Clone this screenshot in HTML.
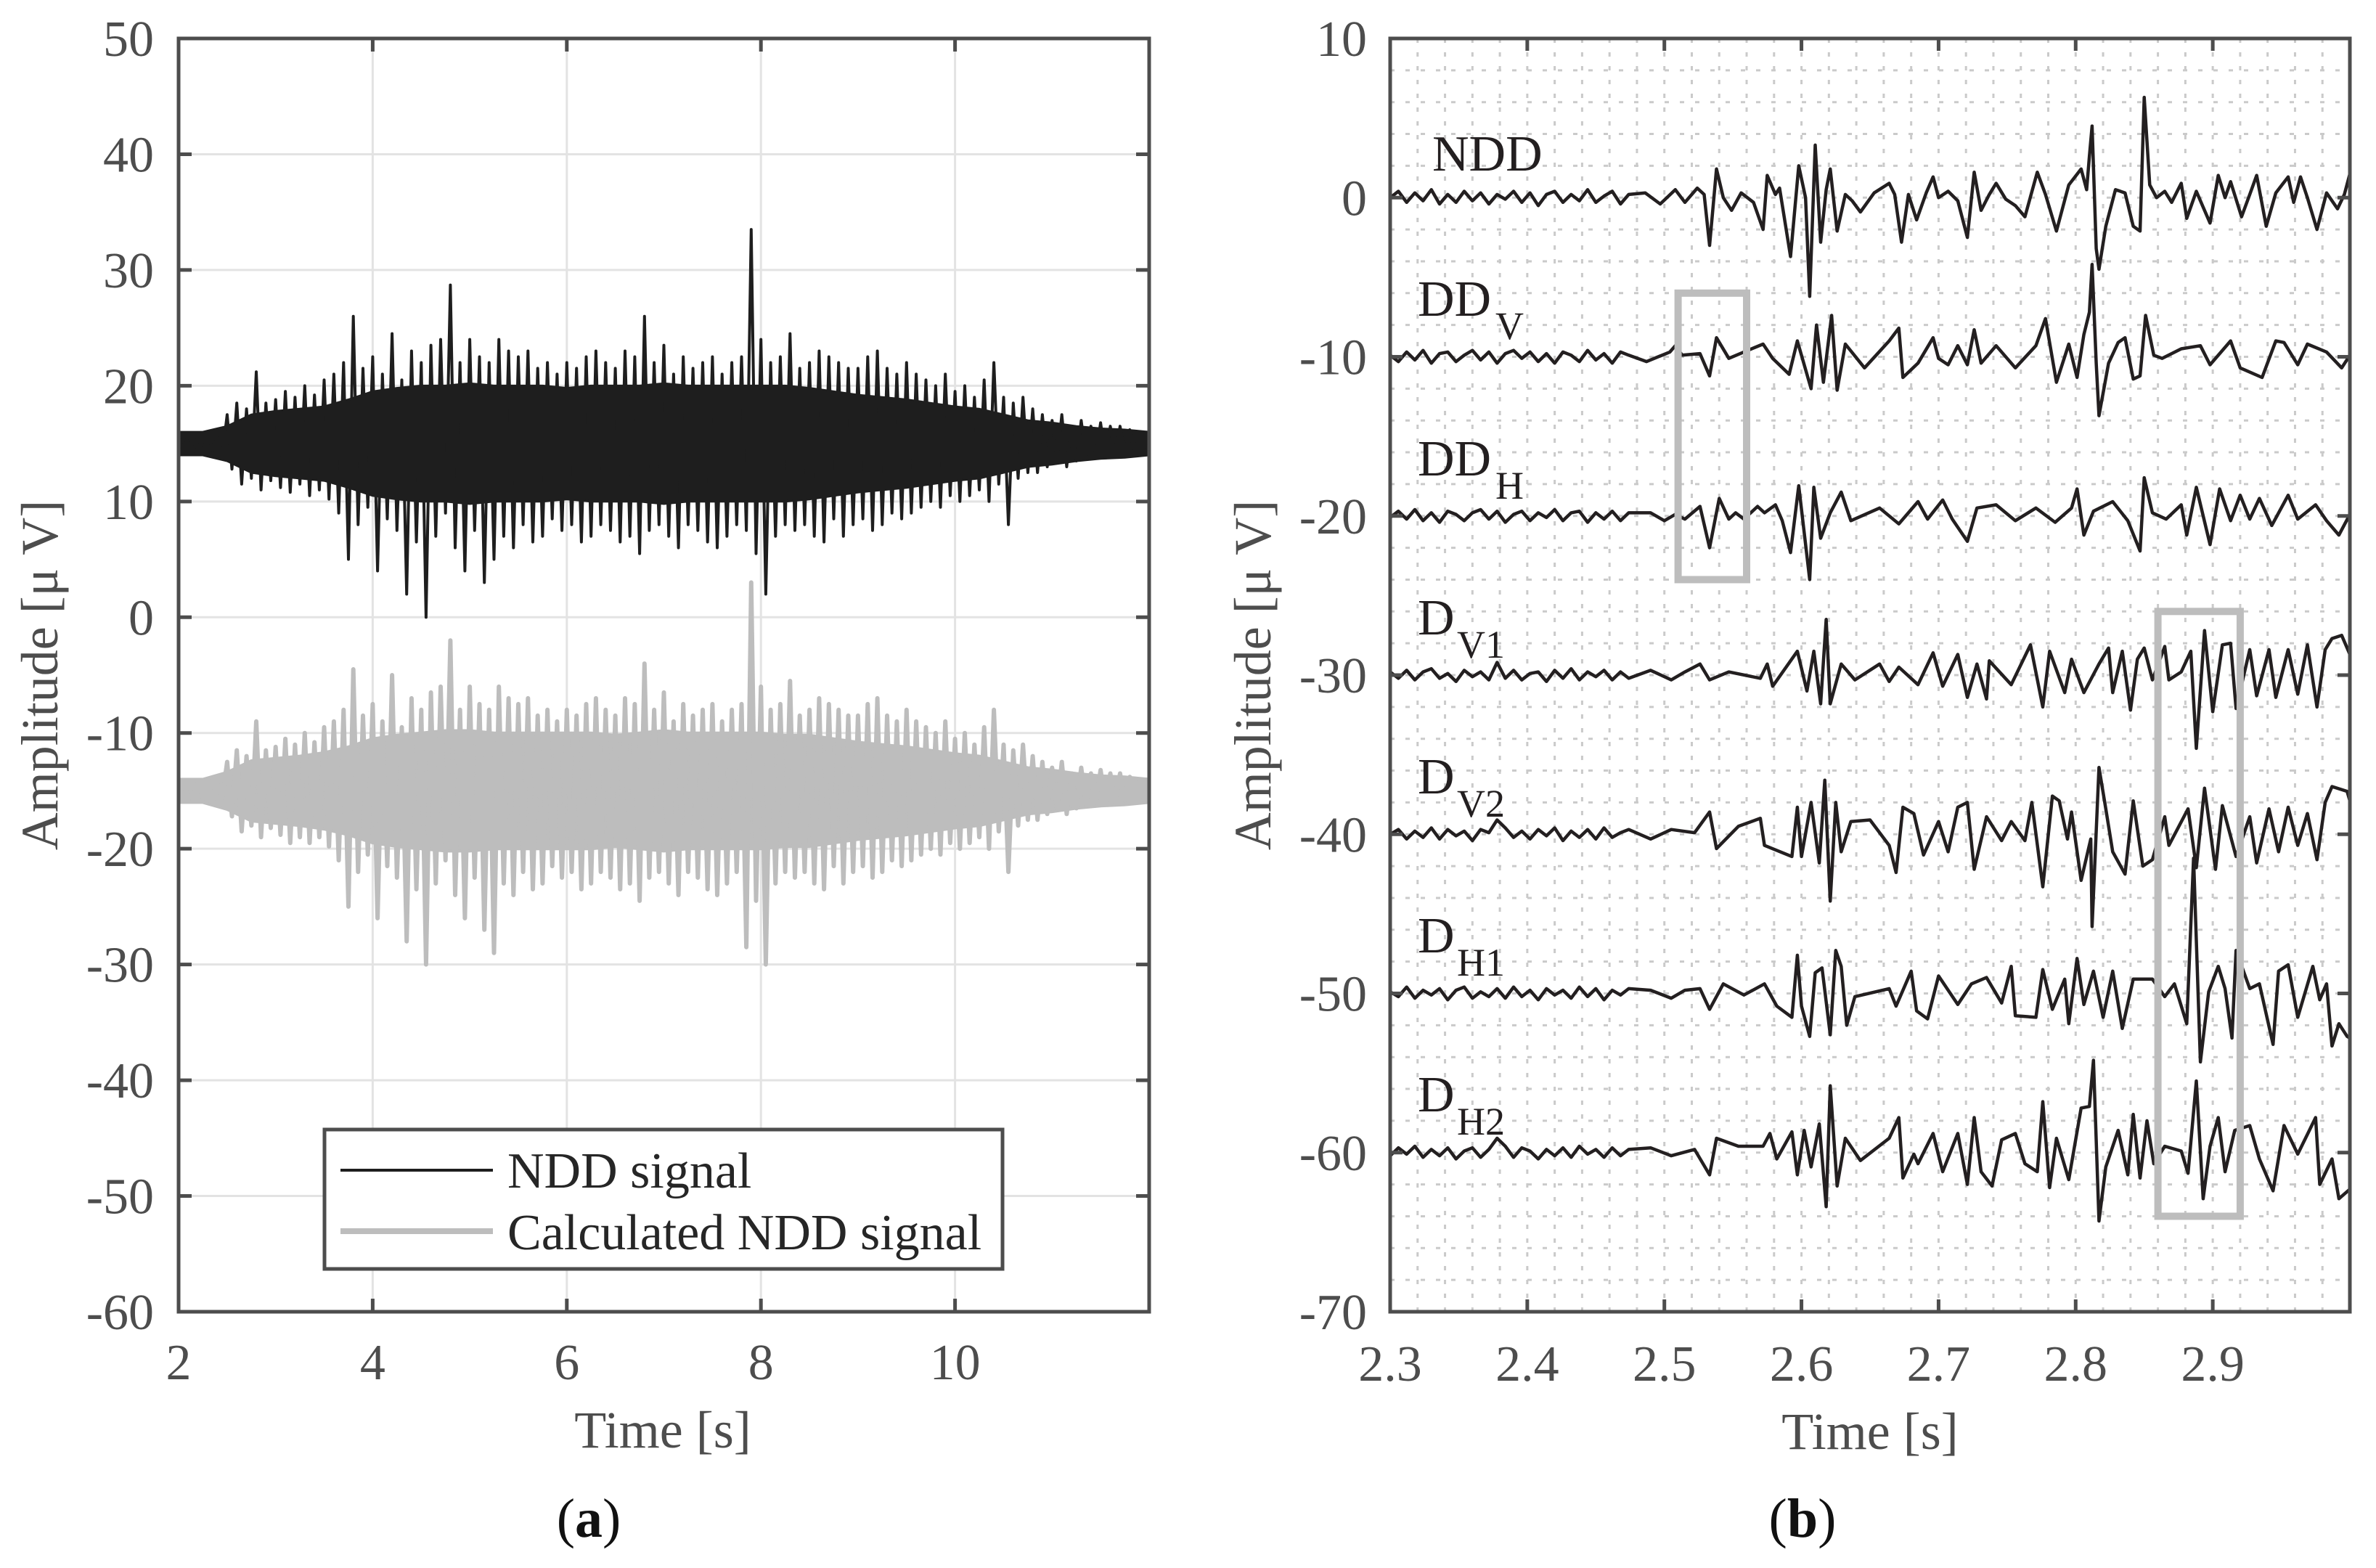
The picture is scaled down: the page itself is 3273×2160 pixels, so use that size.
<!DOCTYPE html>
<html><head><meta charset="utf-8"><style>
html,body{margin:0;padding:0;background:#fff}
svg{display:block}
text{font-family:"Liberation Serif",serif}
</style></head><body>
<svg id="fig" width="3273" height="2160" viewBox="0 0 3273 2160" xmlns="http://www.w3.org/2000/svg" font-family="Liberation Serif, serif">
<defs>
<clipPath id="clipL"><rect x="246" y="53" width="1337" height="1754"/></clipPath>
<clipPath id="clipR"><rect x="1915" y="53" width="1322" height="1754"/></clipPath>
</defs>
<g id="panelA"></g>
<g id="panelB"></g>
</svg>
<script>
// ---------- Panel (a) data ----------
const leftTStart = 2, leftTStep = 0.05;
const nddSignal = [
15.8,14.2,15.9,14.3,15.7,14.1,16.0,14.4,15.6,14.0,
17.5,12.8,18.5,11.5,18.0,12.0,21.2,11.0,18.5,11.8,
18.8,11.2,19.5,10.8,19.0,11.5,20.0,10.5,19.2,11.0,
20.5,10.2,21.0,9.0,22.0,5.0,26.0,8.0,21.5,9.5,
22.5,4.0,21.0,8.5,24.5,7.5,20.5,2.0,23.0,6.5,
22.0,0.0,23.5,7.0,24.0,9.0,28.7,6.0,22.0,4.0,
24.0,7.5,22.5,3.0,22.0,5.0,24.0,7.0,23.0,6.0,
22.5,8.0,23.0,6.5,21.5,7.0,22.0,8.5,21.0,7.5,
22.0,8.0,21.5,6.5,22.5,7.0,23.0,8.0,22.0,7.5,
21.5,6.5,23.0,7.0,22.5,5.5,26.0,7.5,22.0,8.0,
23.5,7.0,21.0,6.0,22.5,8.0,21.5,7.5,22.0,6.5,
22.5,6.0,21.0,7.0,22.0,8.0,22.5,7.5,33.5,5.5,
24.0,2.0,22.0,7.0,22.5,8.0,24.5,7.5,21.5,8.0,
22.0,7.0,23.0,6.5,22.5,8.5,22.0,7.0,21.5,8.0,
21.5,8.5,22.5,7.5,23.0,8.0,21.5,9.0,21.0,8.5,
22.0,9.0,21.0,9.5,20.5,10.0,20.0,9.5,21.0,10.5,
19.5,10.0,20.0,10.5,19.0,11.0,20.5,10.0,22.0,11.5,
19.0,8.0,18.5,12.0,19.0,12.5,18.0,12.5,17.5,13.0,
17.0,13.5,17.5,13.0,16.5,13.5,17.0,13.8,16.5,14.0,
16.8,13.8,16.5,14.0,16.5,14.2,16.2,14.0,16.0,14.2,
15.0];
const calcSignal = [
-14.2,-15.8,-14.1,-15.9,-14.3,-15.7,-14.0,-16.0,-14.4,-15.6,
-12.5,-17.2,-11.5,-18.5,-12.0,-18.0,-9.0,-19.0,-11.5,-18.2,
-11.2,-18.8,-10.5,-19.5,-11.0,-19.0,-10.0,-19.5,-10.8,-19.0,
-9.5,-19.8,-9.0,-21.0,-8.0,-25.0,-4.5,-22.0,-8.5,-20.5,
-7.5,-26.0,-9.0,-21.5,-5.0,-22.5,-9.5,-28.0,-7.0,-23.5,
-8.0,-30.0,-6.5,-23.0,-6.0,-21.0,-2.0,-24.0,-8.0,-26.0,
-6.0,-22.5,-7.5,-27.0,-8.0,-29.0,-6.0,-23.0,-7.0,-24.0,
-7.5,-22.0,-7.0,-23.5,-8.5,-23.0,-8.0,-21.5,-9.0,-22.5,
-8.0,-22.0,-8.5,-23.5,-7.5,-23.0,-7.0,-22.0,-8.0,-22.5,
-8.5,-23.5,-7.0,-23.0,-7.5,-24.5,-4.0,-22.5,-8.0,-22.0,
-6.5,-23.0,-9.0,-24.0,-7.5,-22.0,-8.5,-22.5,-8.0,-23.5,
-7.5,-24.0,-9.0,-23.0,-8.0,-22.0,-7.5,-28.5,3.0,-24.5,
-6.0,-30.0,-8.0,-23.0,-7.5,-22.0,-5.5,-22.5,-8.5,-22.0,
-8.0,-23.0,-7.0,-23.5,-7.5,-21.5,-8.0,-23.0,-8.5,-22.0,
-8.5,-21.5,-7.5,-22.5,-7.0,-22.0,-8.5,-21.0,-9.0,-21.5,
-8.0,-21.0,-9.0,-20.5,-9.5,-20.0,-10.0,-20.5,-9.0,-19.5,
-10.5,-20.0,-10.0,-19.5,-11.0,-19.0,-9.5,-20.0,-8.0,-18.5,
-11.0,-22.0,-11.5,-18.0,-11.0,-17.5,-12.0,-17.5,-12.5,-17.0,
-13.0,-16.5,-12.5,-17.0,-13.5,-16.5,-13.0,-16.2,-13.5,-16.0,
-13.2,-16.2,-13.5,-16.0,-13.5,-15.8,-13.8,-16.0,-14.0,-15.8,
-15.0];
// dense-core half widths, every 0.25 s from 2 to 12
const coreTStep = 0.25;
const nddCoreCenter = 15;
const nddCoreHalf = [1.0,1.0,1.5,2.5,2.8,3.0,3.2,3.8,4.5,4.8,5.0,5.0,5.2,5.0,5.0,5.0,4.8,5.0,5.0,5.0,5.2,5.0,5.0,5.0,5.0,5.0,4.8,4.5,4.2,4.0,3.8,3.5,3.2,3.0,2.5,2.0,1.8,1.5,1.3,1.2,1.0];
const calcCoreCenter = -15;
const calcCoreHalf = [1.0,1.0,1.6,2.6,2.8,3.0,3.3,3.8,4.5,4.8,5.0,5.2,5.2,5.0,5.0,5.0,5.0,5.0,4.8,5.0,5.2,5.0,5.0,5.0,5.0,4.8,4.8,4.5,4.2,4.0,3.8,3.5,3.2,3.0,2.5,2.0,1.8,1.5,1.3,1.2,1.0];
const leftXTicks = [2,4,6,8,10];
const leftYTicks = [50,40,30,20,10,0,-10,-20,-30,-40,-50,-60];

// ---------- Panel (b) data ----------
const traceNames = ["NDD","DD_V","DD_H","D_V1","D_V2","D_H1","D_H2"];
const traceOffsets = [0,-10,-20,-30,-40,-50,-60];
const quietT0 = 2.300, quietStep = 0.006;
const quietNDD = [0,0.4,-0.3,0.3,-0.2,0.5,-0.4,0.2,-0.3,0.4,-0.2,0.3,-0.4,0.2,-0.1,0.4,-0.3,0.3,-0.5,0.2,0.4,-0.3,0.2,-0.2,0.5,-0.3,0.1,0.4,-0.4,0.2];
const quietDDV = [0.1,-0.3,0.3,-0.2,0.4,-0.4,0.2,0.3,-0.3,0.1,0.4,-0.2,0.3,-0.4,0.2,0.4,-0.1,0.3,-0.3,0.2,-0.4,0.3,0.1,-0.3,0.4,-0.2,0.2,-0.4,0.3,0.1];
const quietDDH = [-0.1,0.3,-0.2,0.4,-0.3,0.2,-0.4,0.3,0.1,-0.3,0.2,0.4,-0.2,0.3,-0.4,0.1,0.3,-0.3,0.2,-0.1,0.4,-0.3,0.2,0.3,-0.4,0.2,-0.2,0.3,-0.3,0.2];
const quietDV1 = [0.2,-0.2,0.3,-0.3,0.2,0.4,-0.2,0.1,-0.4,0.3,-0.1,0.2,-0.3,0.8,-0.2,0.3,-0.3,0.1,0.2,-0.4,0.3,-0.2,0.4,-0.3,0.2,-0.1,0.3,-0.3,0.2,-0.2];
const quietDV2 = [0,0.3,-0.3,0.2,-0.2,0.4,-0.3,0.3,-0.1,0.2,-0.4,0.3,0.1,0.9,0.4,-0.2,0.2,-0.3,0.3,-0.1,0.4,-0.4,0.2,-0.2,0.3,-0.3,0.4,-0.2,0.1,0.3];
const quietDH1 = [0.1,-0.2,0.4,-0.3,0.2,-0.1,0.3,-0.4,0.2,0.4,-0.3,0.1,-0.2,0.3,-0.3,0.4,-0.2,0.2,-0.4,0.3,-0.1,0.2,-0.3,0.4,-0.2,0.3,-0.4,0.2,-0.1,0.3];
const quietDH2 = [-0.2,0.3,-0.1,0.4,-0.3,0.2,-0.2,0.3,-0.4,0.1,0.3,-0.3,0.2,0.9,0.4,-0.3,0.3,0.1,-0.4,0.2,-0.2,0.3,-0.3,0.4,-0.1,0.2,-0.3,0.3,-0.2,0.2];
const eventNDD = [[2.486,0.3],[2.497,-0.4],[2.508,0.5],[2.515,-0.3],[2.524,0.6],[2.529,0.2],[2.533,-3.0],[2.538,1.8],[2.543,0],[2.549,-0.8],[2.556,0.3],[2.565,-0.3],[2.572,-2.0],[2.575,1.4],[2.581,0.2],[2.584,0.6],[2.592,-3.7],[2.598,2.0],[2.603,0],[2.606,-6.2],[2.610,3.3],[2.614,-2.8],[2.618,0.5],[2.621,1.8],[2.626,-2.1],[2.632,0.2],[2.637,-0.2],[2.643,-0.9],[2.653,0.3],[2.664,0.9],[2.668,0.2],[2.673,-2.8],[2.678,0.2],[2.684,-1.4],[2.691,0.3],[2.696,1.3],[2.700,0],[2.707,0.4],[2.714,-0.2],[2.721,-2.5],[2.726,1.6],[2.731,-0.8],[2.737,0.2],[2.742,0.9],[2.749,-0.1],[2.756,-0.5],[2.763,-1.2],[2.772,1.6],[2.778,0.2],[2.786,-2.1],[2.795,0.8],[2.804,1.8],[2.808,0.5],[2.810,2.6],[2.812,4.5],[2.815,-3.2],[2.817,-4.5],[2.822,-1.8],[2.829,0.5],[2.836,0.3],[2.842,-1.8],[2.847,-2.1],[2.850,6.3],[2.854,0.8],[2.859,0],[2.865,0.4],[2.870,-0.3],[2.877,0.9],[2.881,-1.3],[2.888,0.4],[2.893,-0.6],[2.898,-1.6],[2.904,1.4],[2.909,0],[2.913,1.0],[2.921,-1.2],[2.927,0.2],[2.932,1.4],[2.939,-1.8],[2.946,0.3],[2.955,1.3],[2.959,-0.3],[2.964,1.3],[2.969,0],[2.976,-2.0],[2.983,0.3],[2.991,-0.7],[2.996,0.2],[3.000,1.5]];
const eventDDV = [[2.487,-0.3],[2.504,0.3],[2.508,0.7],[2.513,0.1],[2.526,0.2],[2.533,-1.2],[2.538,1.2],[2.547,-0.1],[2.558,0.3],[2.572,0.8],[2.579,-0.1],[2.591,-1.1],[2.597,1.0],[2.607,-2.0],[2.611,2.0],[2.616,-1.6],[2.622,2.6],[2.626,-2.1],[2.632,0.8],[2.646,-0.7],[2.664,1.0],[2.671,1.8],[2.674,-1.3],[2.685,-0.4],[2.696,1.2],[2.700,-0.1],[2.707,-0.5],[2.714,0.7],[2.721,-0.5],[2.726,1.7],[2.731,-0.4],[2.742,0.7],[2.756,-0.7],[2.771,0.7],[2.778,2.4],[2.786,-1.6],[2.795,0.8],[2.801,-1.3],[2.806,1.4],[2.810,2.8],[2.812,5.8],[2.815,-0.4],[2.817,-3.7],[2.824,-0.4],[2.831,0.9],[2.836,1.2],[2.842,-1.4],[2.847,-1.2],[2.851,2.6],[2.857,0.1],[2.863,-0.1],[2.877,0.5],[2.891,0.7],[2.898,-0.5],[2.913,1.0],[2.920,-0.7],[2.936,-1.3],[2.946,1.0],[2.952,0.9],[2.962,-0.5],[2.969,0.8],[2.983,0.3],[2.994,-0.7],[3.000,0.1]];
const eventDDH = [[2.490,0.2],[2.500,-0.3],[2.508,0.1],[2.515,-0.2],[2.526,0.6],[2.533,-2.0],[2.540,1.1],[2.547,-0.2],[2.552,0.2],[2.558,-0.2],[2.568,0.6],[2.573,0.2],[2.581,0.7],[2.586,-0.3],[2.592,-2.3],[2.598,1.9],[2.606,-4.0],[2.609,1.8],[2.614,-1.4],[2.621,0.2],[2.629,1.5],[2.636,-0.3],[2.657,0.5],[2.671,-0.5],[2.685,0.9],[2.692,-0.2],[2.703,1.0],[2.710,-0.2],[2.721,-1.6],[2.728,0.5],[2.742,0.7],[2.756,-0.3],[2.771,0.5],[2.785,-0.4],[2.797,0.5],[2.801,1.7],[2.806,-1.2],[2.813,0.3],[2.827,0.9],[2.838,-0.3],[2.847,-2.2],[2.850,2.4],[2.856,0.2],[2.866,-0.2],[2.877,0.7],[2.881,-1.2],[2.888,1.8],[2.898,-1.8],[2.905,1.7],[2.913,-0.3],[2.920,1.3],[2.927,-0.2],[2.934,1.1],[2.943,-0.6],[2.955,1.3],[2.962,-0.2],[2.975,0.7],[2.983,-0.3],[2.992,-1.2],[3.000,0.1]];
const eventDV1 = [[2.490,0.3],[2.505,-0.3],[2.515,0.2],[2.526,0.7],[2.533,-0.3],[2.547,0.2],[2.570,-0.2],[2.575,0.7],[2.579,-0.7],[2.597,1.5],[2.604,-1.0],[2.609,1.5],[2.614,-1.8],[2.618,3.5],[2.621,-1.8],[2.629,0.7],[2.639,-0.3],[2.657,0.7],[2.664,-0.4],[2.671,0.5],[2.685,-0.6],[2.696,1.4],[2.703,-0.7],[2.714,1.3],[2.721,-1.4],[2.728,0.7],[2.735,-1.5],[2.737,0.9],[2.753,-0.6],[2.767,1.9],[2.776,-2.0],[2.781,1.5],[2.792,-1.1],[2.797,1.0],[2.806,-1.1],[2.817,0.7],[2.824,1.7],[2.827,-1.1],[2.834,1.5],[2.840,-2.2],[2.845,1.0],[2.850,1.7],[2.856,-0.3],[2.865,1.8],[2.868,-0.3],[2.877,0.2],[2.884,1.5],[2.888,-4.6],[2.894,2.8],[2.900,-2.3],[2.907,1.9],[2.913,2.0],[2.917,-2.1],[2.927,1.6],[2.932,-1.3],[2.941,1.6],[2.946,-1.4],[2.955,1.6],[2.962,-1.2],[2.969,1.9],[2.976,-2.0],[2.982,1.6],[2.987,2.3],[2.994,2.5],[3.000,1.3]];
const eventDV2 = [[2.490,-0.3],[2.505,0.3],[2.522,0.1],[2.533,1.4],[2.538,-0.9],[2.554,0.5],[2.570,1.0],[2.573,-0.7],[2.593,-1.4],[2.597,1.7],[2.600,-1.4],[2.607,2.0],[2.613,-1.8],[2.617,3.4],[2.621,-4.2],[2.625,2.0],[2.629,-1.1],[2.636,0.8],[2.650,0.9],[2.664,-0.7],[2.669,-2.4],[2.674,1.7],[2.682,1.3],[2.689,-1.3],[2.700,0.8],[2.707,-1.1],[2.714,1.7],[2.721,2.0],[2.726,-2.2],[2.735,1.1],[2.746,-0.4],[2.753,0.8],[2.763,-0.4],[2.768,2.0],[2.776,-3.3],[2.783,2.4],[2.788,2.1],[2.794,-0.3],[2.797,1.4],[2.804,-2.9],[2.811,-0.3],[2.812,-5.8],[2.817,4.2],[2.822,1.6],[2.827,-1.1],[2.836,-2.5],[2.842,2.1],[2.849,-2.0],[2.856,-1.6],[2.865,1.1],[2.868,-0.7],[2.882,1.6],[2.888,-2.1],[2.894,2.9],[2.902,-2.2],[2.907,1.8],[2.917,-1.4],[2.927,1.1],[2.932,-1.8],[2.941,1.6],[2.948,-1.1],[2.955,1.7],[2.962,-0.7],[2.969,1.3],[2.976,-1.6],[2.982,2.0],[2.987,3.0],[2.998,2.7],[3.000,2.1]];
const eventDH1 = [[2.490,0.2],[2.505,-0.3],[2.515,0.2],[2.526,0.3],[2.533,-1.0],[2.543,0.6],[2.558,-0.1],[2.573,0.6],[2.582,-0.8],[2.593,-1.5],[2.597,2.4],[2.600,-0.8],[2.606,-2.7],[2.610,1.3],[2.615,1.6],[2.621,-2.6],[2.625,2.7],[2.629,1.7],[2.633,-2.0],[2.639,-0.2],[2.664,0.3],[2.669,-0.8],[2.680,1.4],[2.684,-1.1],[2.692,-1.6],[2.700,1.1],[2.714,-0.7],[2.724,0.6],[2.735,1.0],[2.746,-0.6],[2.753,1.7],[2.756,-1.4],[2.771,-1.5],[2.776,1.5],[2.783,-1.0],[2.792,0.9],[2.795,-1.9],[2.801,2.2],[2.806,-0.7],[2.813,1.4],[2.820,-1.5],[2.827,1.4],[2.834,-2.2],[2.842,0.9],[2.856,0.9],[2.865,-0.2],[2.872,0.6],[2.881,-1.9],[2.886,8.5],[2.891,-4.3],[2.897,0.1],[2.904,1.7],[2.909,0.3],[2.914,-2.8],[2.917,2.7],[2.927,0.3],[2.934,0.6],[2.944,-3.2],[2.948,1.4],[2.955,1.8],[2.962,-1.5],[2.973,1.7],[2.978,-0.4],[2.983,0.6],[2.987,-3.3],[2.992,-1.9],[2.998,-2.7],[3.000,-2.8]];
const eventDH2 = [[2.490,0.3],[2.505,-0.2],[2.522,0.2],[2.533,-1.4],[2.538,0.9],[2.554,0.4],[2.572,0.4],[2.577,1.2],[2.582,-0.4],[2.593,1.3],[2.597,-1.4],[2.602,1.4],[2.607,-0.9],[2.613,1.8],[2.618,-3.4],[2.621,4.2],[2.626,-2.1],[2.632,0.9],[2.643,-0.5],[2.664,0.9],[2.671,2.2],[2.674,-1.6],[2.682,-0.1],[2.685,-0.7],[2.696,1.2],[2.703,-1.2],[2.714,1.2],[2.721,-2.0],[2.726,2.2],[2.731,-1.2],[2.739,-2.1],[2.746,0.8],[2.756,1.2],[2.763,-0.7],[2.772,-1.2],[2.776,3.2],[2.781,-2.2],[2.786,0.9],[2.795,-1.7],[2.804,2.8],[2.810,2.9],[2.813,5.8],[2.817,-4.3],[2.822,-0.9],[2.831,1.4],[2.838,-1.4],[2.842,2.4],[2.847,-1.6],[2.852,2.0],[2.857,-0.7],[2.865,0.4],[2.877,0.1],[2.882,-1.3],[2.888,4.5],[2.893,-2.9],[2.898,0.4],[2.904,2.2],[2.909,-1.2],[2.916,1.4],[2.927,1.7],[2.934,-0.4],[2.944,-2.4],[2.952,1.7],[2.962,-0.1],[2.975,2.2],[2.978,-2.0],[2.987,-0.4],[2.992,-2.9],[3.000,-2.3]];
const highlightBoxes = [[2.51,2.56,-24,-6],[2.86,2.92,-64,-26]];
const rightXTicks = [2.3,2.4,2.5,2.6,2.7,2.8,2.9];
const rightXTickLabels = ["2.3","2.4","2.5","2.6","2.7","2.8","2.9"];
const rightYTicks = [10,0,-10,-20,-30,-40,-50,-60,-70];

// ---------- helpers ----------
const NS = "http://www.w3.org/2000/svg";
function mk(tag, attrs, parent){ const e=document.createElementNS(NS,tag); for(const k in attrs) e.setAttribute(k,attrs[k]); if(tag==='text') e.setAttribute('font-family','Liberation Serif, serif'); parent.appendChild(e); return e; }

// ---------- Panel A ----------
const A = document.getElementById('panelA');
const LX0=246, LX1=1583, LY0=53, LY1=1807;
const lx = t => LX0 + (t-2)/10*(LX1-LX0);
const ly = v => LY0 + (50-v)/110*(LY1-LY0);
for (const v of leftYTicks){
  const g = mk('line',{x1:LX0,x2:LX1,y1:ly(v),y2:ly(v),stroke:'#e3e3e3','stroke-width':3},A);
  
  
}
for (const t of leftXTicks){
  const g = mk('line',{x1:lx(t),x2:lx(t),y1:LY0,y2:LY1,stroke:'#e3e3e3','stroke-width':3},A);
  
  
}
function seriesPath(arr){ let d=''; arr.forEach((v,i)=>{ d += (i?'L':'M') + lx(leftTStart+i*leftTStep).toFixed(1)+','+ly(v).toFixed(1); }); return d; }
function corePath(center, half){
  let up='', dn='';
  half.forEach((h,i)=>{ up += (i?'L':'M') + lx(2+i*coreTStep).toFixed(1)+','+ly(center+h).toFixed(1); });
  for(let i=half.length-1;i>=0;i--){ dn += 'L' + lx(2+i*coreTStep).toFixed(1)+','+ly(center-half[i]).toFixed(1); }
  return up+dn+'Z';
}
const gc = mk('path',{d:corePath(calcCoreCenter,calcCoreHalf),fill:'#bdbdbd',stroke:'#bdbdbd','stroke-width':4,'clip-path':'url(#clipL)'},A);


const gp = mk('path',{d:seriesPath(calcSignal),fill:'none',stroke:'#bdbdbd','stroke-width':6,'stroke-linejoin':'round','clip-path':'url(#clipL)'},A);


const bc = mk('path',{d:corePath(nddCoreCenter,nddCoreHalf),fill:'#1e1e1e',stroke:'#1e1e1e','stroke-width':3,'clip-path':'url(#clipL)'},A);


const bp = mk('path',{d:seriesPath(nddSignal),fill:'none',stroke:'#1e1e1e','stroke-width':4,'stroke-linejoin':'round','clip-path':'url(#clipL)'},A);


for (const v of leftYTicks){
  const y=ly(v);
  const tk = mk('path',{d:`M${LX0},${y}h18M${LX1},${y}h-18`,stroke:'#4d4d4d','stroke-width':5},A);
  
  
  const tl = mk('text',{x:212,y:y+24,'text-anchor':'end','font-size':70,fill:'#4d4d4d'},A);
  tl.textContent = String(v);
  
  
}
for (const t of leftXTicks){
  const x=lx(t);
  const tk = mk('path',{d:`M${x},${LY1}v-18M${x},${LY0}v18`,stroke:'#4d4d4d','stroke-width':5},A);
  
  
  const tl = mk('text',{x:x,y:1900,'text-anchor':'middle','font-size':70,fill:'#4d4d4d'},A);
  tl.textContent = String(t);
  
  
}
const fa = mk('rect',{x:LX0,y:LY0,width:LX1-LX0,height:LY1-LY0,fill:'none',stroke:'#4d4d4d','stroke-width':5},A);


</script>
<script>
(function(){
const A = document.getElementById('panelA');
const lg = mk('g',{},A);


mk('rect',{x:447,y:1556,width:934,height:192,fill:'#fff',stroke:'#4d4d4d','stroke-width':5},lg);
const e1 = mk('g',{},lg);


mk('line',{x1:469,x2:679,y1:1612,y2:1612,stroke:'#1e1e1e','stroke-width':4},e1);
const t1 = mk('text',{x:699,y:1636,'font-size':70,fill:'#262626'},e1); t1.textContent='NDD signal';
const e2 = mk('g',{},lg);


mk('line',{x1:469,x2:679,y1:1696,y2:1696,stroke:'#bdbdbd','stroke-width':8},e2);
const t2 = mk('text',{x:699,y:1721,'font-size':70,fill:'#262626'},e2); t2.textContent='Calculated NDD signal';
const xt = mk('text',{x:913,y:1994,'text-anchor':'middle','font-size':72,fill:'#4d4d4d'},A); xt.textContent='Time [s]';


const yt = mk('text',{x:0,y:0,'text-anchor':'middle','font-size':72,fill:'#4d4d4d',transform:'translate(79,930) rotate(-90)'},A); yt.textContent='Amplitude [\u03bc V]';


const ca = mk('text',{x:811,y:2117,'text-anchor':'middle','font-size':76,fill:'#111'},A);
ca.innerHTML='(<tspan font-weight="bold">a</tspan>)';



// ---------- Panel B ----------
const B = document.getElementById('panelB');
const RX0=1915, RX1=3237, RY0=53, RY1=1807;
const rx = t => RX0 + (t-2.3)/0.7*(RX1-RX0);
const ry = v => RY0 + (10-v)/80*(RY1-RY0);
for (let k=1;k<35;k++){
  const x = rx(2.3+0.02*k);
  const g = mk('line',{x1:x,x2:x,y1:RY0,y2:RY1,stroke:'#cacaca','stroke-width':3,'stroke-dasharray':'6 13'},B);
  
  
}
for (let v=-68; v<10; v+=2){
  const y = ry(v);
  const g = mk('line',{x1:RX0,x2:RX1,y1:y,y2:y,stroke:'#cacaca','stroke-width':3,'stroke-dasharray':'6 15'},B);
  
  
}
const quiets = [quietNDD,quietDDV,quietDDH,quietDV1,quietDV2,quietDH1,quietDH2];
const events = [eventNDD,eventDDV,eventDDH,eventDV1,eventDV2,eventDH1,eventDH2];
traceNames.forEach((name,i)=>{
  const pts = [];
  quiets[i].forEach((v,k)=>pts.push([quietT0+k*quietStep, v]));
  events[i].forEach(p=>pts.push(p));
  let d='';
  pts.forEach((p,k)=>{ d += (k?'L':'M') + rx(p[0]).toFixed(1)+','+ry(traceOffsets[i]+p[1]).toFixed(1); });
  const path = mk('path',{d:d,fill:'none',stroke:'#231f20','stroke-width':4.5,'stroke-linejoin':'round','clip-path':'url(#clipR)'},B);
  
  
});
highlightBoxes.forEach(b=>{
  const r = mk('rect',{x:rx(b[0]),y:ry(b[3]),width:rx(b[1])-rx(b[0]),height:ry(b[2])-ry(b[3]),fill:'none',stroke:'#bdbdbd','stroke-width':10},B);
  
  
});
const labels = [
  ['NDD','',1973,235,0],['DD','V',1953,435,2060],['DD','H',1953,655,2060],
  ['D','V1',1953,874,2007],['D','V2',1953,1093,2007],['D','H1',1953,1312,2007],['D','H2',1953,1531,2007]];
labels.forEach(l=>{
  const g = mk('g',{},B);
  
  
  const m = mk('text',{x:l[2],y:l[3],'font-size':70,fill:'#231f20'},g); m.textContent=l[0];
  if(l[1]){ const s = mk('text',{x:l[4],y:l[3]+32,'font-size':54,fill:'#231f20'},g); s.textContent=l[1]; }
});
for (const v of rightYTicks){
  const y=ry(v);
  const tk = mk('path',{d:`M${RX0},${y}h17M${RX1},${y}h-17`,stroke:'#4d4d4d','stroke-width':5},B);
  
  
  const tl = mk('text',{x:1883,y:y+24,'text-anchor':'end','font-size':70,fill:'#4d4d4d'},B);
  tl.textContent = String(v);
  
  
}
rightXTicks.forEach((t,i)=>{
  const x=rx(t);
  const tk = mk('path',{d:`M${x},${RY1}v-17M${x},${RY0}v17`,stroke:'#4d4d4d','stroke-width':5},B);
  
  
  const tl = mk('text',{x:x,y:1902,'text-anchor':'middle','font-size':70,fill:'#4d4d4d'},B);
  tl.textContent = rightXTickLabels[i];
  
  
});
const fb = mk('rect',{x:RX0,y:RY0,width:RX1-RX0,height:RY1-RY0,fill:'none',stroke:'#4d4d4d','stroke-width':5},B);


const xtb = mk('text',{x:2576,y:1996,'text-anchor':'middle','font-size':72,fill:'#4d4d4d'},B); xtb.textContent='Time [s]';


const ytb = mk('text',{x:0,y:0,'text-anchor':'middle','font-size':72,fill:'#4d4d4d',transform:'translate(1750,930) rotate(-90)'},B); ytb.textContent='Amplitude [\u03bc V]';


const cb = mk('text',{x:2483,y:2117,'text-anchor':'middle','font-size':76,fill:'#111'},B);
cb.innerHTML='(<tspan font-weight="bold">b</tspan>)';


})();
</script>
</body></html>
